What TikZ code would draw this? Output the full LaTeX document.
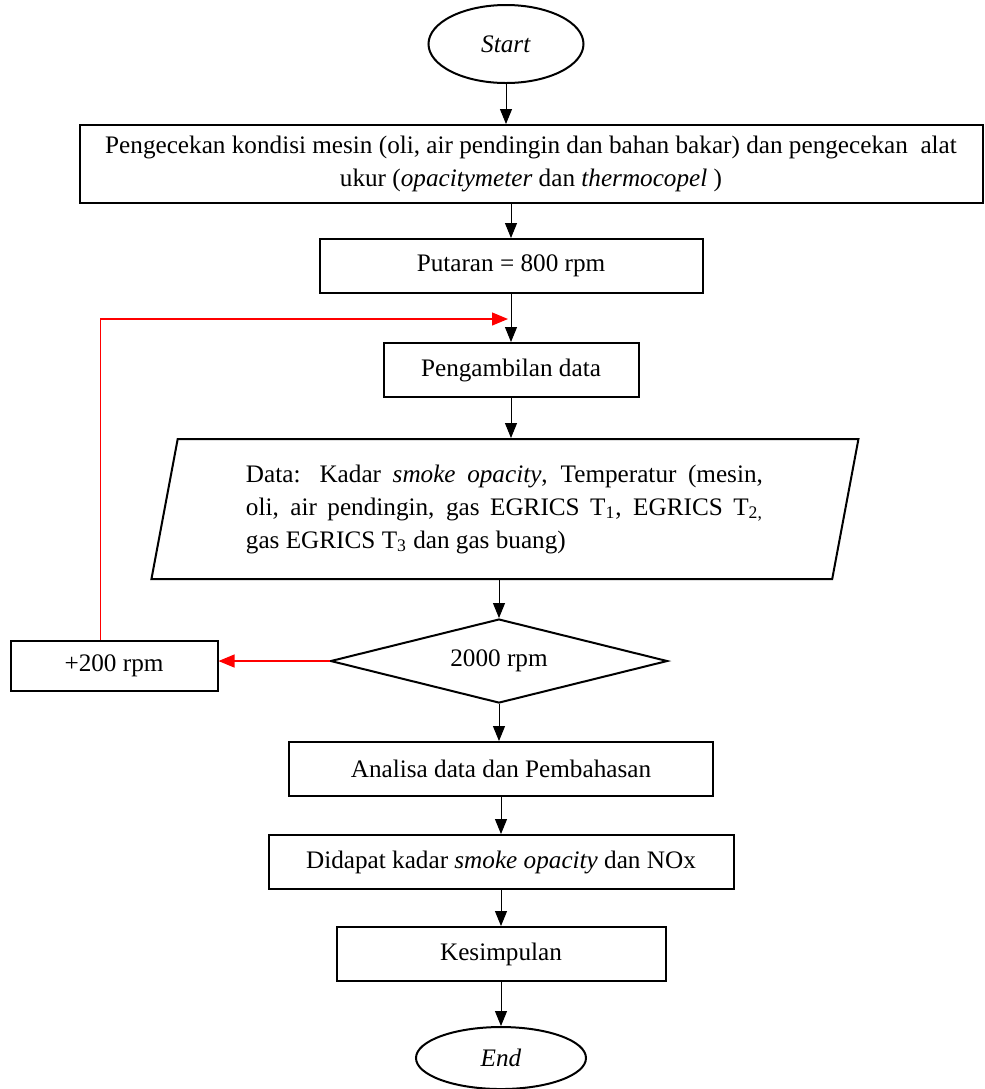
\documentclass[tikz,border=0pt]{standalone}
\usepackage{fontspec}
\setmainfont{Liberation Serif}
\usepackage{tikz}
\usetikzlibrary{shapes.geometric, positioning, arrows.meta}
\tikzset{
  terminal/.style={ellipse, line width=1pt, draw=black, text centered, inner sep=0pt},
  process/.style={rectangle, line width=1pt, draw=black, align=flush center, minimum height=27pt},
  decision/.style={diamond, line width=1pt, draw=black, aspect=4, inner sep=0pt, minimum width=168.5pt, minimum height=42pt, text centered},
  io/.style={trapezium, trapezium left angle=75.6, trapezium right angle=104.4, trapezium stretches body, line width=1pt, draw=black, minimum width=353.5pt, minimum height=70pt, text width=259pt, align=flush left},
  arrow/.style={line width=0.5pt, -{Triangle[length=7.5pt,width=6pt]}},
  looparrow/.style={line width=0.6pt, red, -{Triangle[length=8pt,width=6.5pt]}}
}
\newcommand{\rata}[1]{\makebox[258.5pt][s]{#1}}

\begin{document}
\begin{tikzpicture}[x=0.5pt, y=-0.5pt, every node/.style={font=\fontsize{12.6pt}{16.5pt}\selectfont}]
    \useasboundingbox (0,0) rectangle (985,1089);

    \node (start) [terminal, minimum width=77.5pt, minimum height=39pt] at (506,44) {\textit{Start}};

    \node (cek) [process, below=20pt of start, xshift=12.5pt, minimum width=451.5pt, minimum height=39pt]
    {Pengecekan kondisi mesin (oli, air pendingin dan bahan bakar) dan pengecekan\ \ alat\\
     ukur (\textit{opacitymeter} dan \textit{thermocopel} )};

    \node (putaran) [process, below=17pt of cek, xshift=-10pt, minimum width=191.5pt] {Putaran = 800 rpm};

    \node (ambil) [process, below=24pt of putaran, minimum width=127.5pt] {Pengambilan data};

    \node (data) [io, below=20pt of ambil, xshift=-3pt]
    {\rata{Data: Kadar \textit{smoke opacity}, Temperatur (mesin,}\\
     \rata{oli, air pendingin, gas EGRICS T\textsubscript{1}, EGRICS T\textsubscript{2,}}\\
     gas EGRICS T\textsubscript{3} dan gas buang)};

    \node (rpm) [decision, below=19pt of data, xshift=-3pt] {2000 rpm};

    \node (tambah) [process, left=55.5pt of rpm, yshift=-2.5pt, minimum width=103.5pt, minimum height=25pt] {+200 rpm};

    \node (analisa) [process, below=18.5pt of rpm, xshift=1pt, minimum width=212pt] {Analisa data dan Pembahasan};

    \node (hasil) [process, below=18.5pt of analisa, minimum width=232.5pt] {Didapat kadar \textit{smoke opacity} dan NOx};

    \node (simpul) [process, below=18pt of hasil, minimum width=164.5pt] {Kesimpulan};

    \node (end) [terminal, below=22pt of simpul, minimum width=85pt, minimum height=31pt] {\textit{End}};

    % Panah
    \draw [arrow] (start.south) -- (start.south |- cek.north);
    \draw [arrow] (cek.south -| putaran.north) -- (putaran.north);
    \draw [arrow] (putaran.south) -- (ambil.north);
    \draw [arrow] (ambil.south) -- (ambil.south |- data.north);
    \draw [arrow] (data.south -| rpm.north) -- (rpm.north);
    \draw [arrow] (rpm.south) -- (rpm.south |- analisa.north);
    \draw [arrow] (analisa.south) -- (analisa.south |- hasil.north);
    \draw [arrow] (hasil.south) -- (hasil.south |- simpul.north);
    \draw [arrow] (simpul.south) -- (simpul.south |- end.north);

    % Loop putaran
    \coordinate (loopin) at ([xshift=-1.5pt, yshift=-12.5pt]putaran.south);
    \draw [looparrow] (rpm.west) -- (rpm.west -| tambah.east);
    \draw [looparrow] ([xshift=-6.75pt]tambah.north) |- (loopin);

\end{tikzpicture}
\end{document}
